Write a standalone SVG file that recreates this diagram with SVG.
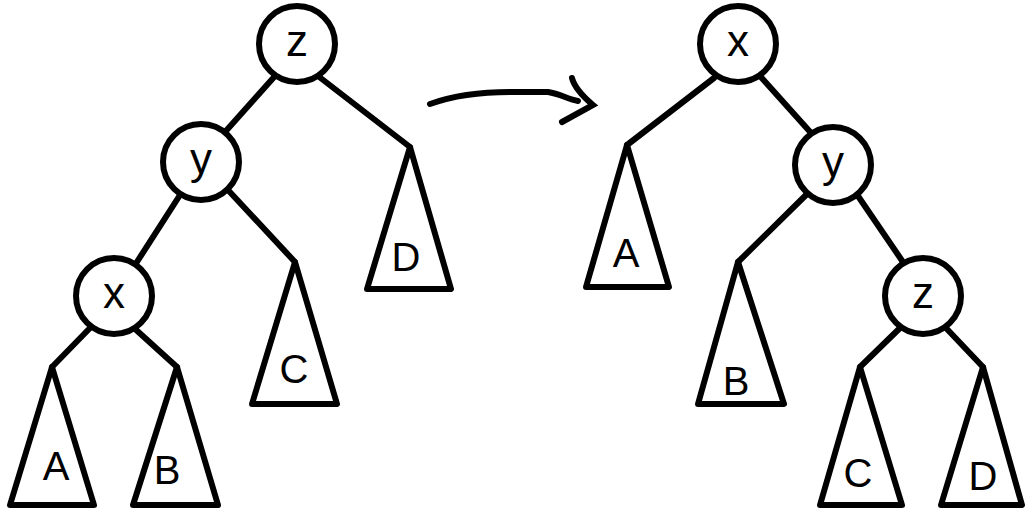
<svg xmlns="http://www.w3.org/2000/svg" width="1026" height="517" viewBox="0 0 1026 517">
  <style>
    .edge { stroke: #000; stroke-width: 6; stroke-linecap: round; fill: none; }
    .key { fill: #fff; stroke: #000; stroke-width: 6; }
    .sub { fill: #fff; stroke: #000; stroke-width: 6; stroke-linejoin: round; }
    .lbl { font-family: "Liberation Sans", Arial, sans-serif; font-size: 40px; fill: #000; text-anchor: middle; }
    .sym { font-family: "Liberation Sans", Arial, sans-serif; font-size: 44px; fill: #000; text-anchor: middle; }
  </style>
  <rect width="1026" height="517" fill="#fff"/>

  <!-- tree links -->
  <g id="connectors">
    <!-- before rotation -->
    <line class="edge" x1="275" y1="76" x2="225" y2="132"/>
    <line class="edge" x1="318" y1="76" x2="410" y2="147"/>
    <line class="edge" x1="180" y1="195" x2="135" y2="265"/>
    <line class="edge" x1="228" y1="190" x2="295" y2="262"/>
    <line class="edge" x1="90" y1="328" x2="52" y2="367"/>
    <line class="edge" x1="134" y1="328" x2="177" y2="367"/>
    <!-- after rotation -->
    <line class="edge" x1="714" y1="78" x2="627" y2="145"/>
    <line class="edge" x1="760" y1="76" x2="812" y2="134"/>
    <line class="edge" x1="806" y1="195" x2="738" y2="262"/>
    <line class="edge" x1="858" y1="196" x2="905" y2="265"/>
    <line class="edge" x1="900" y1="328" x2="860" y2="367"/>
    <line class="edge" x1="946" y1="328" x2="983" y2="367"/>
  </g>

  <!-- rotation arrow -->
  <g id="rotation-arrow">
    <path class="edge" d="M430,104 C455,95 480,92 510,92 L548,92 C560,94 568,99 578,101"/>
    <path class="edge" d="M572,78 C574,86 580,94 593,105 L562,122"/>
  </g>

  <!-- left tree -->
  <g id="left-z"><circle class="key" cx="297" cy="44" r="38"/><text class="sym" x="297" y="56">z</text></g>
  <g id="left-y"><circle class="key" cx="201" cy="162" r="38"/><text class="sym" x="201" y="174">y</text></g>
  <g id="left-x"><circle class="key" cx="114" cy="296" r="38"/><text class="sym" x="114" y="308">x</text></g>
  <g id="left-A"><polygon class="sub" points="52,367 94,505 10,505"/><text class="lbl" x="56" y="480">A</text></g>
  <g id="left-B"><polygon class="sub" points="177,367 218,505 133,505"/><text class="lbl" x="167" y="484">B</text></g>
  <g id="left-C"><polygon class="sub" points="295,262 337,404 252,404"/><text class="lbl" x="294" y="383">C</text></g>
  <g id="left-D"><polygon class="sub" points="410,147 451,289 367,289"/><text class="lbl" x="406" y="271">D</text></g>

  <!-- right tree -->
  <g id="right-x"><circle class="key" cx="738" cy="44" r="38"/><text class="sym" x="738" y="56">x</text></g>
  <g id="right-y"><circle class="key" cx="833" cy="165" r="38"/><text class="sym" x="833" y="177">y</text></g>
  <g id="right-z"><circle class="key" cx="923" cy="296" r="38"/><text class="sym" x="923" y="308">z</text></g>
  <g id="right-A"><polygon class="sub" points="627,145 669,287 586,287"/><text class="lbl" x="626" y="267">A</text></g>
  <g id="right-B"><polygon class="sub" points="738,262 784,404 698,404"/><text class="lbl" x="736" y="395">B</text></g>
  <g id="right-C"><polygon class="sub" points="860,367 902,505 820,505"/><text class="lbl" x="858" y="487">C</text></g>
  <g id="right-D"><polygon class="sub" points="983,367 1022,505 941,505"/><text class="lbl" x="983" y="490">D</text></g>
</svg>
